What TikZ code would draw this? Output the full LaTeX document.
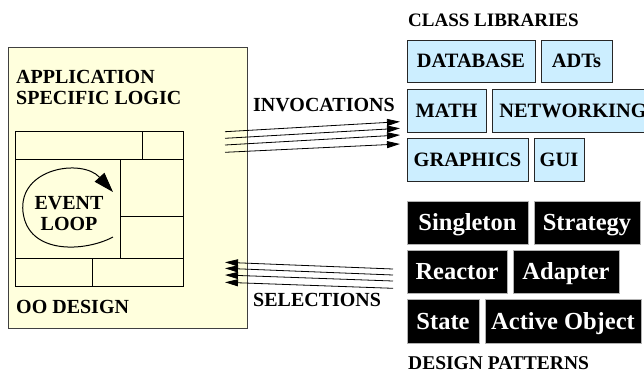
\documentclass[tikz,border=0pt]{standalone}
\usepackage{fontspec}
\setmainfont{Liberation Serif}
\usetikzlibrary{arrows.meta}
\definecolor{paleyellow}{RGB}{255,255,221}
\definecolor{paleblue}{RGB}{204,238,255}
\begin{document}
\begin{tikzpicture}[x=1pt,y=-1pt,
  lbl/.style={font=\fontsize{20}{21}\selectfont\bfseries, anchor=base west, inner sep=0pt},
  libbox/.style={draw=black!85, fill=paleblue, line width=0.9pt, font=\fontsize{20.4}{22}\selectfont\bfseries,
    inner sep=0pt, text height=13.5pt, text depth=0pt},
  patbox/.style={draw=black!30, fill=black, text=white, line width=0.9pt, font=\fontsize{24.5}{26}\selectfont\bfseries,
    inner sep=0pt, text height=16pt, text depth=0pt},
  gridline/.style={line width=0.8pt},
  flow/.style={line width=0.8pt, -{Triangle[length=13pt,width=7pt]}},
  loopline/.style={line width=1pt, -{Triangle[length=20pt,width=13pt]}}]
\useasboundingbox (0,0) rectangle (644,373);

% application box
\node[draw=black!75, fill=paleyellow, line width=0.9pt, minimum width=239pt, minimum height=281pt, inner sep=0pt] (app) at (127.5,187.5) {};
\node[lbl] (t1) at (16,83) {APPLICATION};
\node[lbl] (t2) at (16,104) {SPECIFIC LOGIC};
\node[lbl] (t3) at (16,313) {OO DESIGN};

% inner grid
\draw[gridline] (15,131) rectangle (183,286);
\draw[gridline] (15,159) -- (183,159);
\draw[gridline] (142,131) -- (142,159);
\draw[gridline] (15,258) -- (183,258);
\draw[gridline] (120,159) -- (120,258);
\draw[gridline] (120,216) -- (183,216);
\draw[gridline] (92,258) -- (92,286);

% event loop
\node[font=\fontsize{20}{21}\selectfont\bfseries, anchor=base, inner sep=0pt] (ev1) at (69,209) {EVENT};
\node[font=\fontsize{20}{21}\selectfont\bfseries, anchor=base, inner sep=0pt] (ev2) at (69,230) {LOOP};
\coordinate (ls) at (113,237);
\coordinate (ll) at (23,212);
\coordinate (le) at (113,192);
\draw[loopline] (ls) .. controls (85,252) and (28,255) .. (ll) .. controls (18,168) and (82,158) .. (le);

% labels
\node[lbl] (inv) at (253,111) {INVOCATIONS};
\node[lbl] (sel) at (253,306) {SELECTIONS};
\node[lbl, font=\fontsize{19}{20}\selectfont\bfseries] (cl) at (408,26) {CLASS LIBRARIES};
\node[lbl, font=\fontsize{19.5}{20}\selectfont\bfseries] (dp) at (408,369.5) {DESIGN PATTERNS};

% class libraries
\node[libbox, minimum width=128pt, minimum height=42pt] (db) at (471,61) {DATABASE};
\node[libbox, minimum width=71pt, minimum height=42pt] (adt) at (576.5,61) {ADTs};
\node[libbox, minimum width=79pt, minimum height=43pt] (math) at (446.5,110.5) {MATH};
\node[libbox, minimum width=162pt, minimum height=43pt] (net) at (573,110.5) {NETWORKING};
\node[libbox, minimum width=121pt, minimum height=43pt] (gfx) at (467.5,159.5) {GRAPHICS};
\node[libbox, minimum width=50pt, minimum height=43pt] (gui) at (559,159.5) {GUI};

% design patterns
\node[patbox, minimum width=121pt, minimum height=43pt] (sing) at (467.5,222.5) {Singleton};
\node[patbox, minimum width=106pt, minimum height=43pt] (strat) at (587,222.5) {Strategy};
\node[patbox, minimum width=100pt, minimum height=43pt] (reac) at (457,271.5) {Reactor};
\node[patbox, minimum width=106pt, minimum height=43pt] (adap) at (566,271.5) {Adapter};
\node[patbox, minimum width=72pt, minimum height=44pt] (state) at (443,321) {State};
\node[patbox, minimum width=156pt, minimum height=44pt] (act) at (563,321) {Active Object};

% invocation arrows
\coordinate (ia1) at (225,131.7); \coordinate (ib1) at (400,121.7);
\coordinate (ia2) at (225,138.3); \coordinate (ib2) at (400,128.3);
\coordinate (ia3) at (225,145);   \coordinate (ib3) at (400,135);
\coordinate (ia4) at (225,152.3); \coordinate (ib4) at (400,144);
\foreach \k in {1,2,3,4} \draw[flow] (ia\k) -- (ib\k);

% selection arrows
\coordinate (sa1) at (393,269);   \coordinate (sb1) at (225,262.3);
\coordinate (sa2) at (393,275);   \coordinate (sb2) at (225,268.3);
\coordinate (sa3) at (393,281);   \coordinate (sb3) at (225,275);
\coordinate (sa4) at (393,288.3); \coordinate (sb4) at (225,282.3);
\foreach \k in {1,2,3,4} \draw[flow] (sa\k) -- (sb\k);
\end{tikzpicture}
\end{document}
